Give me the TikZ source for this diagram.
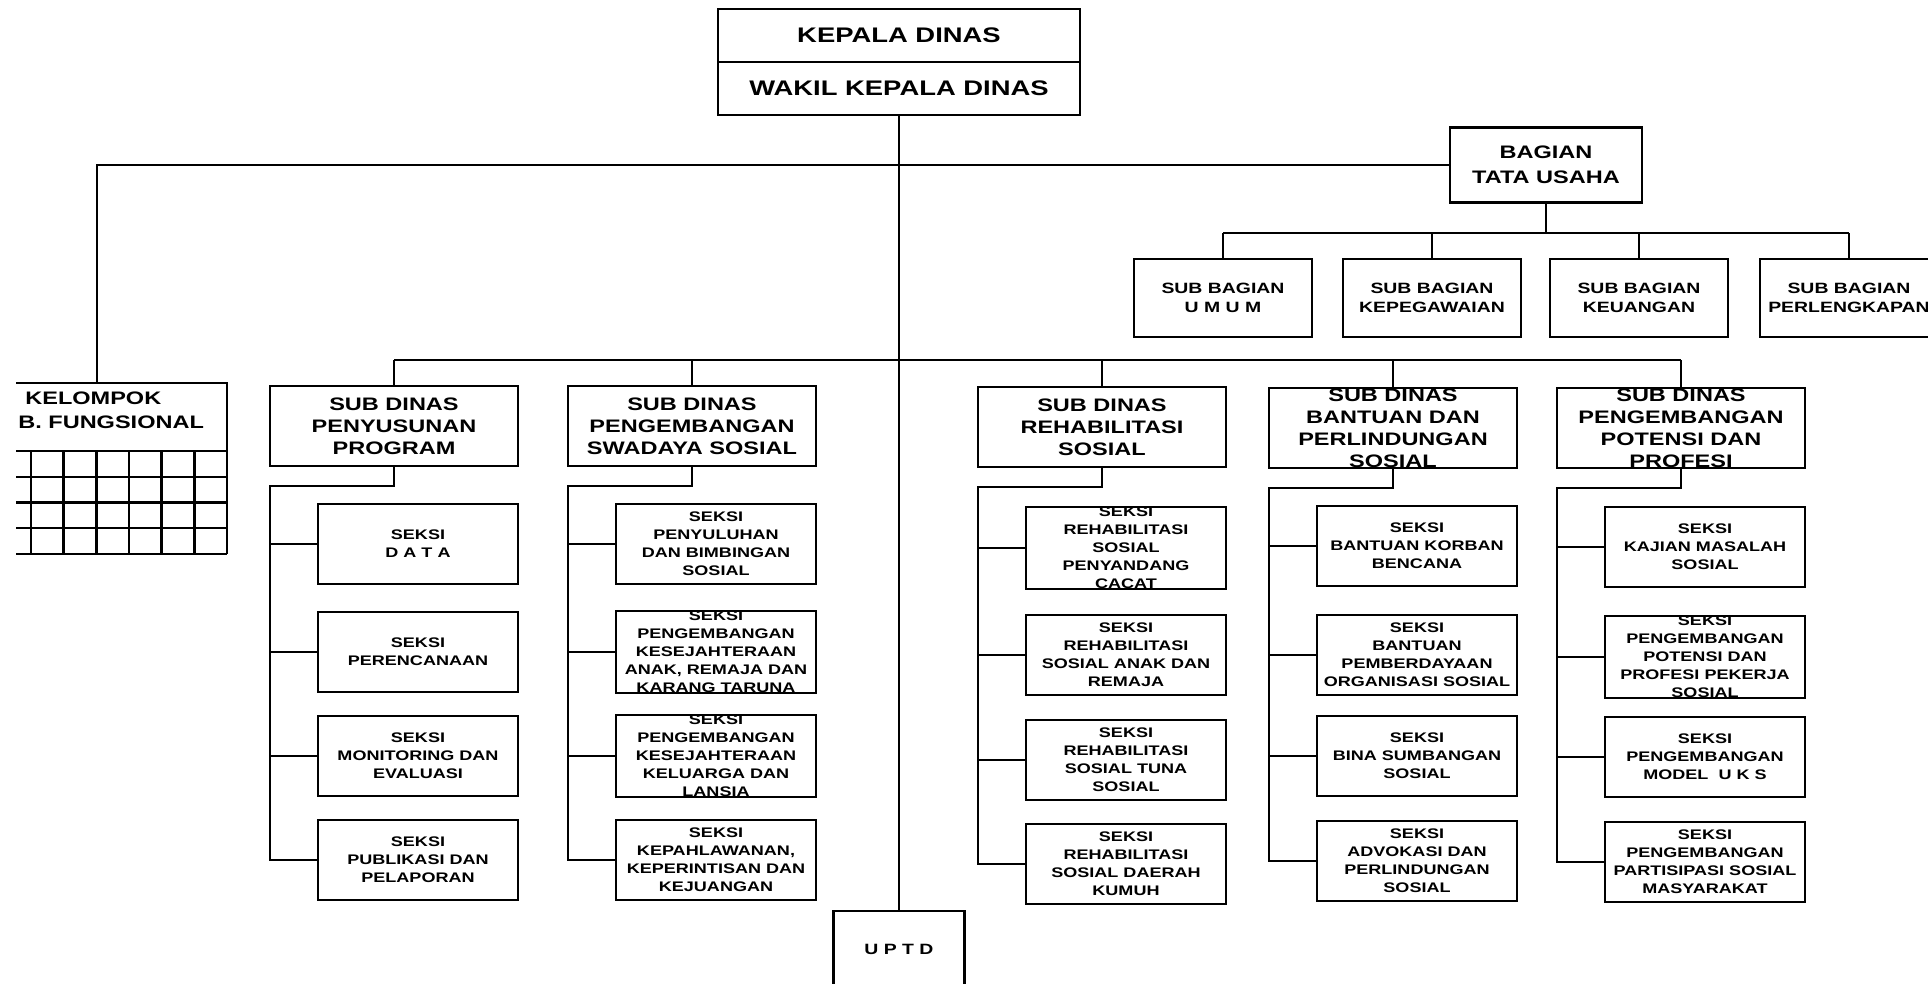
\documentclass[tikz,border=0pt]{standalone}
\usepackage{fontspec}
\setmainfont{Liberation Sans}[FakeStretch=1.3]
\usetikzlibrary{positioning}

\tikzset{
  kotak/.style={draw,line width=1.4pt,align=center,inner sep=0pt,outer sep=0pt},
  pimpinan/.style={kotak,minimum width=7.24cm,minimum height=1.06cm,font=\fontsize{12}{13}\selectfont\bfseries},
  subdinas/.style={kotak,minimum width=4.96cm,minimum height=1.6cm,font=\fontsize{10.3}{12.5}\selectfont\bfseries},
  seksi/.style={kotak,minimum width=4cm,minimum height=1.6cm,font=\fontsize{7.9}{10.2}\selectfont\bfseries},
  subbagian/.style={kotak,minimum width=3.56cm,minimum height=1.56cm,font=\fontsize{8.5}{10.8}\selectfont\bfseries},
  garis/.style={line width=1.4pt},
}

\begin{document}
\begin{tikzpicture}[x=0.02cm,y=-0.02cm]
\useasboundingbox (0,0) rectangle (1928,984);

% Pimpinan
\node[pimpinan] (kepala) at (899,35.5) {KEPALA DINAS};
\node[pimpinan,below=0pt of kepala] (wakil) {WAKIL KEPALA DINAS};

\node[kotak,anchor=north,minimum width=2.62cm,minimum height=1.52cm,font=\fontsize{8.5}{10}\selectfont\bfseries] (uptd) at (899,911) {U P T D};

% Tata usaha
\node[kotak,minimum width=3.84cm,minimum height=1.5cm,font=\fontsize{10.3}{14.2}\selectfont\bfseries] (bagian) at (1546,165) {BAGIAN\\TATA USAHA};

\node[subbagian] (sbumum) at (1223,298) {SUB BAGIAN\\U M U M};
\node[subbagian] (sbpeg) at (1432,298) {SUB BAGIAN\\KEPEGAWAIAN};
\node[subbagian] (sbkeu) at (1639,298) {SUB BAGIAN\\KEUANGAN};
\node[subbagian] (sbperl) at (1849,298) {SUB BAGIAN\\PERLENGKAPAN};

% Kelompok jabatan fungsional
\node[anchor=west,align=left,inner sep=0pt,font=\fontsize{10.3}{13.7}\selectfont\bfseries] (kelompok) at (18,410) {\hspace*{0.14cm}KELOMPOK\\B. FUNGSIONAL};
\coordinate (kelompok atas) at (97,383);
\draw[garis] (16,383) -- (227,383) -- (227,554);
\foreach \k in {0,...,4} {
  \draw[garis] (16,{451+25.75*\k}) -- (227,{451+25.75*\k});
}
\foreach \k in {1,...,6} {
  \draw[garis] ({227-32.67*\k},451) -- ({227-32.67*\k},554);
}

% Sub dinas
\node[subdinas] (pp) at (394,426) {SUB DINAS\\PENYUSUNAN\\PROGRAM};
\node[subdinas] (sw) at (692,426) {SUB DINAS\\PENGEMBANGAN\\SWADAYA SOSIAL};
\node[subdinas] (rh) at (1102,427) {SUB DINAS\\REHABILITASI\\SOSIAL};
\node[subdinas] (bt) at (1393,428) {SUB DINAS\\BANTUAN DAN\\PERLINDUNGAN\\SOSIAL};
\node[subdinas] (pr) at (1681,428) {SUB DINAS\\PENGEMBANGAN\\POTENSI DAN\\PROFESI};

% Seksi
\node[seksi] (pp1) at (418,544) {SEKSI\\D A T A};
\node[seksi] (pp2) at (418,652) {SEKSI\\PERENCANAAN};
\node[seksi] (pp3) at (418,756) {SEKSI\\MONITORING DAN\\EVALUASI};
\node[seksi] (pp4) at (418,860) {SEKSI\\PUBLIKASI DAN\\PELAPORAN};

\node[seksi] (sw1) at (716,544) {SEKSI\\PENYULUHAN\\DAN BIMBINGAN\\SOSIAL};
\node[seksi] (sw2) at (716,652) {SEKSI\\PENGEMBANGAN\\KESEJAHTERAAN\\ANAK, REMAJA DAN\\KARANG TARUNA};
\node[seksi] (sw3) at (716,756) {SEKSI\\PENGEMBANGAN\\KESEJAHTERAAN\\KELUARGA DAN\\LANSIA};
\node[seksi] (sw4) at (716,860) {SEKSI\\KEPAHLAWANAN,\\KEPERINTISAN DAN\\KEJUANGAN};

\node[seksi] (rh1) at (1126,548) {SEKSI\\REHABILITASI\\SOSIAL\\PENYANDANG\\CACAT};
\node[seksi] (rh2) at (1126,655) {SEKSI\\REHABILITASI\\SOSIAL ANAK DAN\\REMAJA};
\node[seksi] (rh3) at (1126,760) {SEKSI\\REHABILITASI\\SOSIAL TUNA\\SOSIAL};
\node[seksi] (rh4) at (1126,864) {SEKSI\\REHABILITASI\\SOSIAL DAERAH\\KUMUH};

\node[seksi] (bt1) at (1417,546) {SEKSI\\BANTUAN KORBAN\\BENCANA};
\node[seksi] (bt2) at (1417,655) {SEKSI\\BANTUAN\\PEMBERDAYAAN\\ORGANISASI SOSIAL};
\node[seksi] (bt3) at (1417,756) {SEKSI\\BINA SUMBANGAN\\SOSIAL};
\node[seksi] (bt4) at (1417,861) {SEKSI\\ADVOKASI DAN\\PERLINDUNGAN\\SOSIAL};

\node[seksi] (pr1) at (1705,547) {SEKSI\\KAJIAN MASALAH\\SOSIAL};
\node[seksi] (pr2) at (1705,657) {SEKSI\\PENGEMBANGAN\\POTENSI DAN\\PROFESI PEKERJA\\SOSIAL};
\node[seksi] (pr3) at (1705,757) {SEKSI\\PENGEMBANGAN\\MODEL\ \ U K S};
\node[seksi] (pr4) at (1705,862) {SEKSI\\PENGEMBANGAN\\PARTISIPASI SOSIAL\\MASYARAKAT};

% Garis komando
\draw[garis] (wakil.south) -- (uptd.north);
\draw[garis] (kelompok atas) |- (bagian.west);

\coordinate (batang tu) at (0,233);
\draw[garis] (bagian.south) -- (bagian.south |- batang tu);
\draw[garis] (sbumum.north |- batang tu) -- (sbperl.north |- batang tu);
\foreach \sb in {sbumum,sbpeg,sbkeu,sbperl} {
  \draw[garis] (\sb.north) -- (\sb.north |- batang tu);
}

\coordinate (batang sd) at (0,360);
\draw[garis] (pp.north |- batang sd) -- (pr.north |- batang sd);
\foreach \sd in {pp,sw,rh,bt,pr} {
  \draw[garis] (\sd.north) -- (\sd.north |- batang sd);
  \draw[garis] (\sd.south) -- ++(0,20) -| (\sd.south west |- \sd4.west) -- (\sd4.west);
  \foreach \i in {1,2,3} {
    \draw[garis] (\sd.south west |- \sd\i.west) -- (\sd\i.west);
  }
}

\end{tikzpicture}
\end{document}
